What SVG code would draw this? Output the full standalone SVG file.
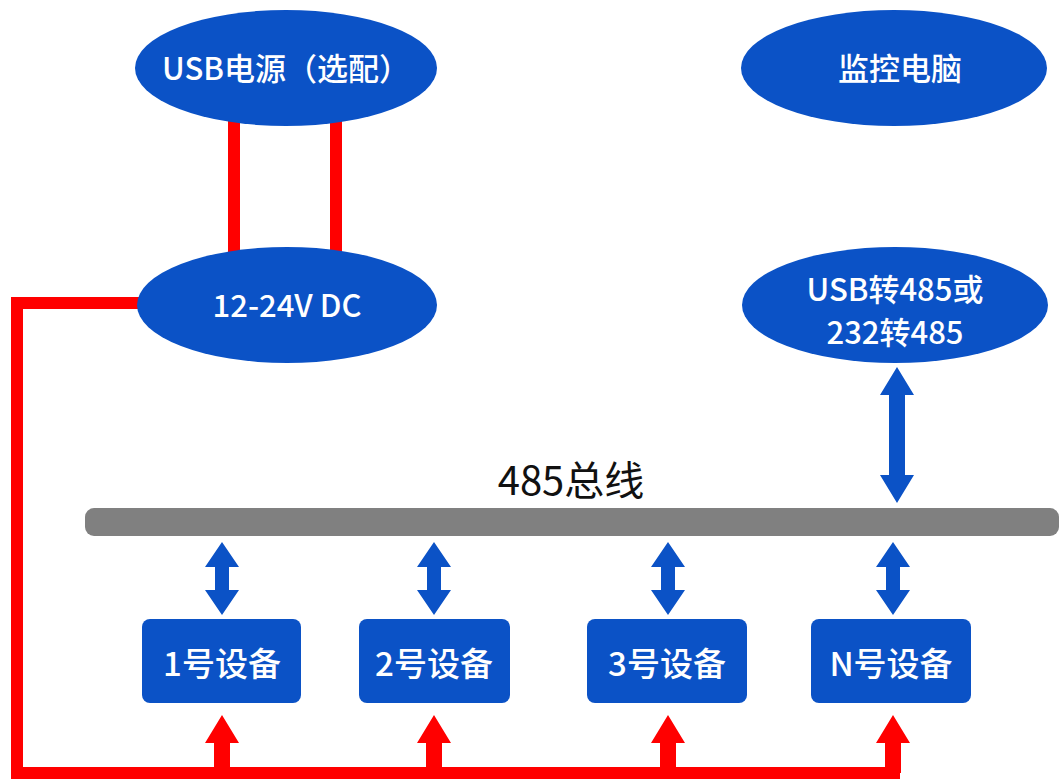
<svg xmlns="http://www.w3.org/2000/svg" width="1059" height="781" viewBox="0 0 1059 781">
<style>
.node{fill:#0b52c6}
.lbl{fill:#ffffff;font-family:"Noto Sans CJK SC","Noto Sans",sans-serif;font-size:31px;font-weight:500;text-anchor:middle}
.dev{font-size:33px}
.bus-lbl{fill:#111111;font-family:"Noto Sans CJK SC","Noto Sans",sans-serif;font-size:40px;font-weight:400;text-anchor:middle}
.red-line{stroke:#ff0000;stroke-width:12;fill:none}
.red-arrow{fill:#ff0000}
.blue-arrow{fill:#0b52c6}
</style>
<rect width="1059" height="781" fill="#ffffff"/>
<g id="connectors">
  <line class="red-line" x1="234" y1="115" x2="234" y2="260"/>
  <line class="red-line" x1="336" y1="115" x2="336" y2="260"/>
  <polyline class="red-line" points="145,303 17,303 17,773 900,773"/>
  <polygon class="red-arrow" points="222,715 239,743 230,743 230,773 214,773 214,743 205,743"/>
  <polygon class="red-arrow" points="434,715 451,743 442,743 442,773 426,773 426,743 417,743"/>
  <polygon class="red-arrow" points="668,715 685,743 676,743 676,773 660,773 660,743 651,743"/>
  <polygon class="red-arrow" points="893,715 910,743 901,743 901,773 885,773 885,743 876,743"/>
  <polygon class="blue-arrow" points="222,542 239,567 229,567 229,590 239,590 222,615 205,590 215,590 215,567 205,567"/>
  <polygon class="blue-arrow" points="434,542 451,567 441,567 441,590 451,590 434,615 417,590 427,590 427,567 417,567"/>
  <polygon class="blue-arrow" points="668,542 685,567 675,567 675,590 685,590 668,615 651,590 661,590 661,567 651,567"/>
  <polygon class="blue-arrow" points="893,542 910,567 900,567 900,590 910,590 893,615 876,590 886,590 886,567 876,567"/>
  <polygon class="blue-arrow" points="897,367 914,395 905,395 905,475 914,475 897,503 880,475 889,475 889,395 880,395"/>
</g>
<g id="bus">
  <rect x="85" y="508" width="974" height="28" rx="9" fill="#808080"/>
  <text class="bus-lbl" x="571" y="495">485总线</text>
</g>
<g id="usb-power">
  <ellipse class="node" cx="286" cy="68" rx="151" ry="58"/>
  <text class="lbl" x="286" y="80">USB电源（选配）</text>
</g>
<g id="dc">
  <ellipse class="node" cx="287" cy="305" rx="150" ry="58"/>
  <text class="lbl" x="287" y="317">12-24V DC</text>
</g>
<g id="pc">
  <ellipse class="node" cx="894" cy="68" rx="153" ry="58"/>
  <text class="lbl" x="900" y="80">监控电脑</text>
</g>
<g id="converter">
  <ellipse class="node" cx="895" cy="305" rx="153" ry="58"/>
  <text class="lbl" x="895" y="301">USB转485或</text>
  <text class="lbl" x="895" y="344">232转485</text>
</g>
<g id="dev1">
  <rect class="node" x="142" y="619" width="159" height="84" rx="8"/>
  <text class="lbl dev" x="222" y="676">1号设备</text>
</g>
<g id="dev2">
  <rect class="node" x="359" y="619" width="151" height="84" rx="8"/>
  <text class="lbl dev" x="434" y="676">2号设备</text>
</g>
<g id="dev3">
  <rect class="node" x="587" y="619" width="160" height="84" rx="8"/>
  <text class="lbl dev" x="667" y="676">3号设备</text>
</g>
<g id="devN">
  <rect class="node" x="811" y="619" width="160" height="84" rx="8"/>
  <text class="lbl dev" x="891" y="676">N号设备</text>
</g>
</svg>
